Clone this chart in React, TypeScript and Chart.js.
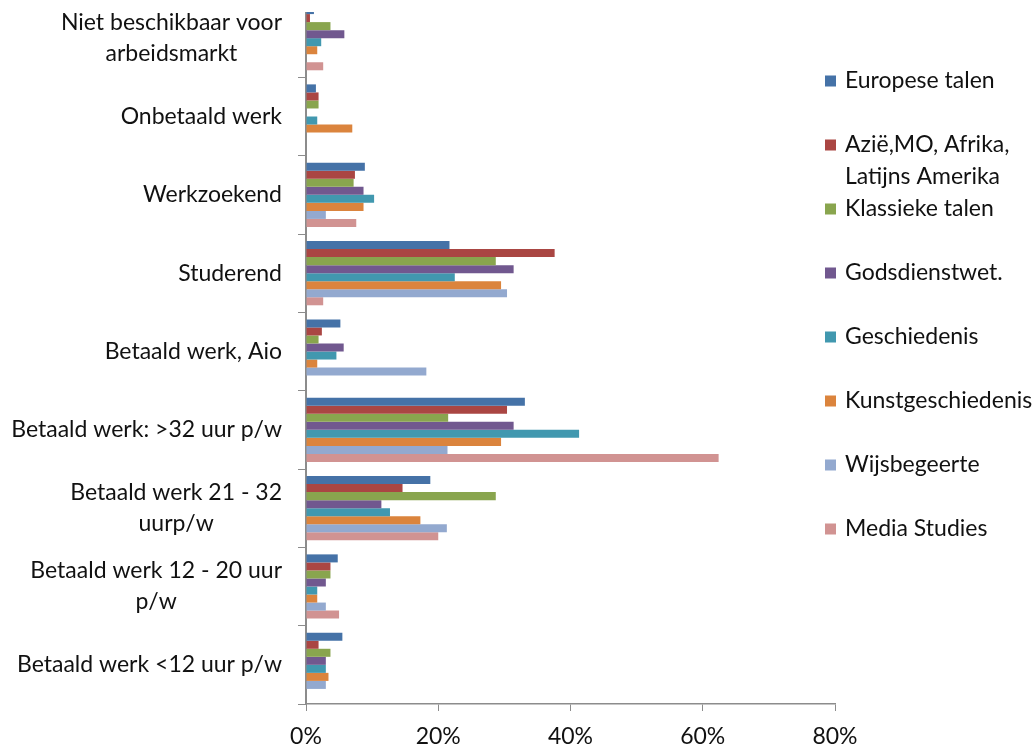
import React, { useEffect, useRef } from 'react';
import { Chart, registerables } from 'chart.js';

Chart.register(...registerables);

// Categories (top to bottom), multi-line where the original wraps
const categories: string[][] = [
  ['Niet beschikbaar voor', 'arbeidsmarkt'],
  ['Onbetaald werk'],
  ['Werkzoekend'],
  ['Studerend'],
  ['Betaald werk, Aio'],
  ['Betaald werk: >32 uur p/w'],
  ['Betaald werk 21 - 32', 'uurp/w'],
  ['Betaald werk 12 - 20 uur', 'p/w'],
  ['Betaald werk <12 uur p/w'],
];

const seriesNames: string[][] = [
  ['Europese talen'],
  ['Azië,MO, Afrika,', 'Latijns Amerika'],
  ['Klassieke talen'],
  ['Godsdienstwet.'],
  ['Geschiedenis'],
  ['Kunstgeschiedenis'],
  ['Wijsbegeerte'],
  ['Media Studies'],
];

// Values in percent, one per category
const europeseTalen = [1.2, 1.5, 8.9, 21.7, 5.2, 33.1, 18.8, 4.8, 5.5];
const aziëMO = [0.6, 1.9, 7.4, 37.6, 2.4, 30.4, 14.6, 3.7, 1.9];
const klassiekeTalen = [3.7, 1.9, 7.2, 28.7, 1.9, 21.5, 28.7, 3.7, 3.7];
const godsdienstwet = [5.8, 0, 8.7, 31.4, 5.7, 31.4, 11.4, 3.0, 3.0];
const geschiedenis = [2.3, 1.7, 10.3, 22.5, 4.6, 41.3, 12.7, 1.7, 3.0];
const kunstgeschiedenis = [1.7, 7.0, 8.7, 29.5, 1.7, 29.5, 17.3, 1.7, 3.4];
const wijsbegeerte = [0, 0, 3.0, 30.4, 18.2, 21.4, 21.3, 3.0, 3.0];
const mediaStudies = [2.6, 0, 7.6, 2.6, 0, 62.4, 20.0, 5.0, 0];

const xTicks = [0, 20, 40, 60, 80];

const seriesValues = [
  europeseTalen,
  aziëMO,
  klassiekeTalen,
  godsdienstwet,
  geschiedenis,
  kunstgeschiedenis,
  wijsbegeerte,
  mediaStudies,
];

const colors = ['#4572A7', '#AA4643', '#89A54E', '#71588F', '#4198AF', '#DB843D', '#93A9CF', '#D19392'];

const FONT_FAMILY = 'Lato, "Open Sans", sans-serif';
const FONT_SIZE = 23;
const FONT = `${FONT_SIZE}px ${FONT_FAMILY}`;
const LINE_H = 31;
const AXIS_COLOR = '#8c8c8c';

const yLabelPlugin = {
  id: 'yLabelsCustom',
  afterDraw(chart: any) {
    const ctx = chart.ctx;
    const y = chart.scales.y;
    ctx.save();
    ctx.font = FONT;
    ctx.fillStyle = '#111';
    ctx.textAlign = 'center';
    ctx.textBaseline = 'middle';
    categories.forEach((lines, i) => {
      const cy = y.getPixelForValue(i);
      const w = Math.max(...lines.map((l) => ctx.measureText(l).width));
      const cx = y.right - 24 - w / 2;
      lines.forEach((l, j) => {
        ctx.fillText(l, cx, cy + (j - (lines.length - 1) / 2) * LINE_H);
      });
    });
    ctx.restore();
  },
};

const legendPlugin = {
  id: 'legendCustom',
  afterDraw(chart: any) {
    const ctx = chart.ctx;
    const area = chart.chartArea;
    ctx.save();
    ctx.font = FONT;
    ctx.textAlign = 'left';
    ctx.textBaseline = 'middle';
    const boxX = area.right - 10;
    const textX = area.right + 10;
    seriesNames.forEach((lines, i) => {
      const rowY = area.top + 82 + i * 64;
      ctx.fillStyle = colors[i];
      ctx.fillRect(boxX, rowY - 5.5, 11, 11);
      ctx.fillStyle = '#111';
      lines.forEach((l, j) => ctx.fillText(l, textX, rowY + j * 32));
    });
    ctx.restore();
  },
};

export default function App() {
  const canvasRef = useRef<HTMLCanvasElement | null>(null);

  useEffect(() => {
    if (!canvasRef.current) return;
    const chart = new Chart(canvasRef.current, {
      type: 'bar',
      data: {
        labels: categories,
        datasets: seriesValues.map((vals, i) => ({
          label: seriesNames[i].join(' '),
          data: vals,
          backgroundColor: colors[i],
          borderWidth: 0,
          categoryPercentage: 0.82,
          barPercentage: 1,
        })),
      },
      options: {
        indexAxis: 'y',
        animation: false,
        responsive: false,
        maintainAspectRatio: false,
        layout: { padding: { left: 0, right: 201, top: 0, bottom: 0 } },
        plugins: {
          legend: { display: false },
          tooltip: { enabled: false },
        },
        scales: {
          x: {
            min: 0,
            max: 80,
            afterBuildTicks(scale: any) {
              scale.ticks = xTicks.map((v) => ({ value: v }));
            },
            afterFit(scale: any) {
              scale.height = 60;
            },
            grid: {
              drawOnChartArea: false,
              drawTicks: true,
              tickLength: 7,
              color: AXIS_COLOR,
              lineWidth: 1,
            },
            border: { display: true, color: AXIS_COLOR, width: 1.5 },
            ticks: {
              padding: 12,
              color: '#111',
              font: { family: FONT_FAMILY, size: FONT_SIZE },
              callback: (v: any) => `${v}%`,
              maxRotation: 0,
            },
          },
          y: {
            afterFit(scale: any) {
              scale.width = 306;
            },
            grid: {
              drawOnChartArea: false,
              drawTicks: true,
              tickLength: 8,
              color: AXIS_COLOR,
              lineWidth: 1,
              offset: true,
            },
            border: { display: true, color: AXIS_COLOR, width: 2 },
            ticks: { display: false },
          },
        },
      },
      plugins: [yLabelPlugin, legendPlugin],
    });
    return () => chart.destroy();
  }, []);

  return (
    <div
      style={{
        position: 'absolute',
        left: 0,
        top: 12,
        width: 1036,
        height: 734,
        overflow: 'hidden',
        background: '#fff',
      }}
    >
      <div style={{ position: 'absolute', left: 0, top: -13, width: 1036, height: 765 }}>
        <canvas ref={canvasRef} width={1036} height={765} style={{ display: 'block' }} />
      </div>
    </div>
  );
}
